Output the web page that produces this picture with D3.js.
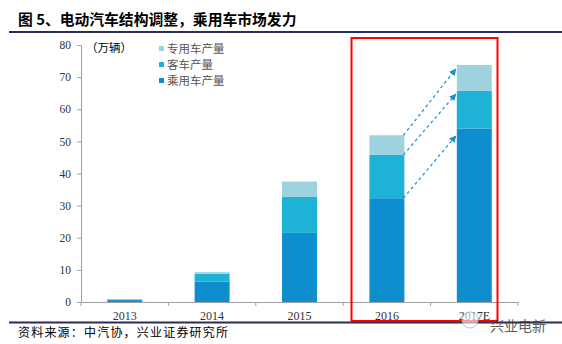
<!DOCTYPE html>
<html><head><meta charset="utf-8">
<script src="https://cdn.jsdelivr.net/npm/d3@7"></script>
<style>body{margin:0;background:#fff}svg{display:block}</style>
</head><body><svg id="c" width="562" height="344"></svg>
<script>
const categories = ["2013","2014","2015","2016","2017E"];
const passenger = [0.6, 6.3, 21.5, 32.3, 54.0];
const bus = [0.2, 2.5, 11.2, 13.5, 11.7];
const special = [0.0, 0.5, 4.8, 6.1, 8.1];
const seriesNames = ["乘用车产量","客车产量","专用车产量"];
const yTicks = [0,10,20,30,40,50,60,70,80];
const colors = ["#0E8ECF","#1DB2D6","#9DD3DF"];

const svg = d3.select("#c");
const serif = "'Liberation Serif','DejaVu Serif',serif";
const cjk = "'Noto Sans CJK SC',sans-serif";

// title
svg.append("text").attr("x",18).attr("y",25).attr("font-family",cjk).attr("font-weight","bold")
  .attr("font-size",14.8).attr("fill","#000").text("图 5、电动汽车结构调整，乘用车市场发力");
svg.append("line").attr("x1",9).attr("x2",562).attr("y1",32).attr("y2",32).attr("stroke","#2B2B5C").attr("stroke-width",2);
svg.append("line").attr("x1",9).attr("x2",562).attr("y1",322.5).attr("y2",322.5).attr("stroke","#2B2B5C").attr("stroke-width",2);
svg.append("text").attr("x",18).attr("y",337).attr("font-family",cjk).attr("font-size",12).attr("letter-spacing",1.2).attr("fill","#000")
  .text("资料来源：中汽协，兴业证券研究所");

const x = d3.scaleBand().domain(categories).range([81,518]).paddingInner(0.6).paddingOuter(0.3);
const y = d3.scaleLinear().domain([0,80]).range([302,45]);

const data = categories.map((c,i)=>({cat:c, p:passenger[i], b:bus[i], s:special[i]}));
const stack = d3.stack().keys(["p","b","s"])(data);

const g = svg.append("g");
stack.forEach((layer,k)=>{
  g.selectAll(null).data(layer).join("rect")
    .attr("x",d=>x(d.data.cat)).attr("width",x.bandwidth())
    .attr("y",d=>y(d[1])).attr("height",d=>Math.max(0,y(d[0])-y(d[1])))
    .attr("fill",colors[k]);
});

// y axis
const ya = svg.append("g").attr("transform","translate(81,0)")
  .call(d3.axisLeft(y).tickValues(yTicks).tickSize(4).tickPadding(6));
ya.select(".domain").attr("stroke","#A0A0A0");
ya.selectAll(".tick line").attr("stroke","#A0A0A0");
ya.selectAll("text").attr("font-family",serif).attr("font-size",11.5).attr("fill","#333");

// x axis
const xa = svg.append("g").attr("transform","translate(0,302)")
  .call(d3.axisBottom(x).tickSize(0).tickPadding(9));
xa.select(".domain").attr("stroke","#A0A0A0");
xa.selectAll("text").attr("font-family",serif).attr("font-size",12).attr("fill","#333");
const bounds = d3.range(categories.length+1).map(i=>81 + i*(437/categories.length));
xa.selectAll(".bt").data(bounds).join("line").attr("x1",d=>d).attr("x2",d=>d)
  .attr("y1",0).attr("y2",4).attr("stroke","#A0A0A0");

// unit label
svg.append("text").attr("x",86).attr("y",52).attr("font-family",cjk).attr("font-size",11.5).attr("fill","#000").text("（万辆）");

// legend
const legendOrder = [2,1,0];
legendOrder.forEach((k,i)=>{
  const ly = 49 + i*16;
  svg.append("rect").attr("x",159).attr("y",ly-3).attr("width",5).attr("height",5).attr("fill",colors[k]);
  svg.append("text").attr("x",167).attr("y",ly+4).attr("font-family",cjk).attr("font-size",11.5).attr("fill","#555").text(seriesNames[k]);
});

// arrows
const defs = svg.append("defs");
defs.append("marker").attr("id","ah").attr("viewBox","0 0 10 10").attr("refX",9).attr("refY",5)
  .attr("markerWidth",7).attr("markerHeight",7).attr("markerUnits","userSpaceOnUse").attr("orient","auto")
  .append("path").attr("d","M0,0L10,5L0,10z").attr("fill","#1A8FD0");
const i16 = 3, i17 = 4;
const tops16 = [stack[2][i16][1], stack[1][i16][1], stack[0][i16][1]];
const tops17 = [stack[2][i17][1], stack[1][i17][1], stack[0][i17][1]];
const offs = [1.3, 1.0, 2.3];
tops16.forEach((v,j)=>{
  svg.append("line")
    .attr("x1",x(categories[i16])+x.bandwidth()-1).attr("y1",y(v))
    .attr("x2",x(categories[i17])-1).attr("y2",y(tops17[j]-offs[j]))
    .attr("stroke","#1A8FD0").attr("stroke-width",1.2).attr("stroke-dasharray","3,3")
    .attr("marker-end","url(#ah)");
});

// red box
svg.append("rect").attr("x",351.5).attr("y",38).attr("width",146).attr("height",283)
  .attr("fill","none").attr("stroke","#FF0000").attr("stroke-width",2);

// watermark
const wm = svg.append("g").attr("opacity",0.85);
wm.append("circle").attr("cx",470).attr("cy",320).attr("r",8).attr("fill","#fff").attr("fill-opacity",0.7).attr("stroke","#bbb").attr("stroke-width",1);
wm.append("text").attr("x",490).attr("y",331).attr("font-family",cjk).attr("font-size",14).attr("fill","#444").text("兴业电新");
</script></body></html>
